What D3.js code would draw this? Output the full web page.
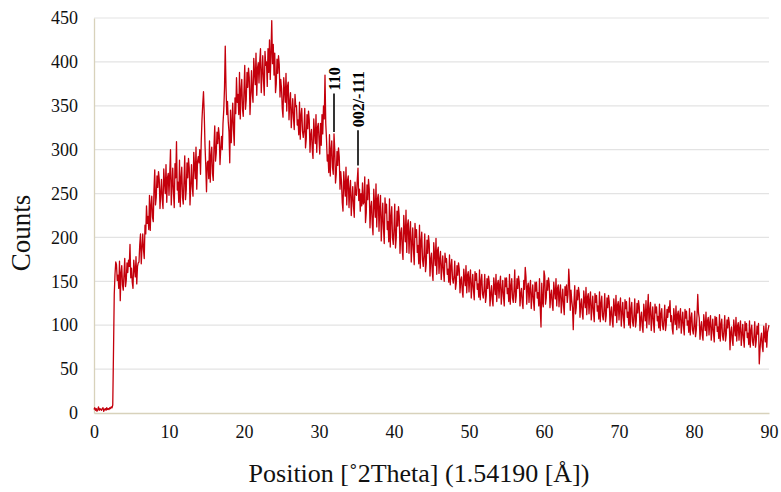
<!DOCTYPE html>
<html><head><meta charset="utf-8">
<script src="https://cdn.jsdelivr.net/npm/d3@7"></script>
<style>body{margin:0;background:#fff}svg{display:block}</style>
</head><body>
<svg id="c" width="781" height="492"></svg>
<script>
// X-ray diffraction pattern, counts every 0.1 deg 2Theta from 0 to 90
const startAngle = 0;
const stepAngle = 0.1;
const counts = [
4,6,3,5,2,4,7,3,5,4,
3,5,6,2,4,5,3,6,4,5,
4,6,5,7,6,9,70,135,158,172,
169,151,157,142,173,128,160,168,146,140,
158,176,144,151,171,160,174,167,192,154,
165,149,142,174,164,155,178,147,167,171,
172,192,204,170,188,204,186,176,214,204,
236,216,224,209,248,208,237,247,223,218,
255,277,237,246,270,257,275,266,233,251,
266,243,233,278,263,250,283,240,268,273,
248,273,300,237,259,279,251,234,284,268,
309,254,263,240,288,235,268,280,246,238,
265,293,243,254,285,268,290,279,237,259,
283,258,247,297,281,267,303,255,286,292,
285,300,272,310,335,352,366,340,305,282,
252,285,287,267,310,263,293,303,273,265,
305,327,287,296,320,307,325,316,283,301,
315,300,330,345,370,418,372,340,355,332,
320,285,345,308,332,353,323,305,359,341,
382,354,363,340,388,335,368,380,346,338,
368,396,346,357,388,371,393,382,340,362,
390,365,354,404,388,374,410,362,393,399,
376,401,415,365,387,407,379,362,412,396,
400,372,415,388,425,380,410,447,398,420,
385,410,365,375,403,387,407,397,360,380,
370,347,337,382,367,354,387,344,372,377,
334,354,365,325,343,358,336,323,363,349,
350,328,334,317,354,312,339,347,321,314,
322,347,302,312,340,324,344,334,297,317,
323,300,290,335,320,307,340,297,325,330,
312,295,330,305,340,318,350,335,385,330,
312,287,294,274,317,270,300,310,280,272,
318,300,262,272,298,282,302,292,255,275,
263,240,230,275,260,247,280,237,265,270,
234,254,265,225,243,258,236,223,263,249,
248,265,279,242,255,230,250,236,262,238,
240,269,217,228,260,243,266,255,211,234,
241,215,203,255,238,223,261,212,244,249,
207,234,248,196,219,239,210,193,245,228,
238,209,218,195,244,189,224,235,200,192,
210,238,188,199,230,213,235,224,182,204,
211,186,175,225,209,195,231,183,214,220,
182,205,218,172,192,211,185,169,216,200,
209,183,191,170,214,165,196,206,175,167,
180,204,161,170,197,182,202,192,156,175,
182,161,151,194,180,168,199,158,185,189,
159,175,184,152,166,179,161,150,182,172,
176,158,164,149,180,146,167,175,153,148,
155,173,141,148,168,157,171,164,137,151,
155,139,132,164,154,145,168,137,157,161,
138,154,163,131,145,158,140,129,161,151,
159,141,147,132,163,129,150,158,136,131,
140,158,126,133,153,142,156,149,122,136,
145,129,122,154,144,135,158,127,147,151,
131,147,156,124,138,151,133,122,154,144,
154,136,142,127,158,124,145,153,131,126,
140,163,126,133,153,142,156,149,122,136,
142,126,119,151,141,166,155,124,144,148,
126,142,151,119,133,146,128,117,149,139,
149,131,137,122,153,119,98,148,126,121,
162,156,124,131,151,140,154,147,120,134,
140,124,117,149,139,130,153,122,142,146,
121,137,146,114,128,141,123,112,144,134,
146,126,135,164,148,117,140,128,120,95,
127,145,113,120,140,129,143,136,109,123,
130,114,107,139,129,120,143,112,132,136,
113,129,138,106,120,133,115,104,136,126,
134,116,122,107,138,104,125,133,111,106,
118,136,104,111,131,120,134,127,100,114,
121,105,98,130,120,111,134,103,123,127,
106,122,131,99,113,126,108,97,129,119,
127,109,115,100,131,97,118,126,104,99,
112,130,98,105,125,114,128,121,94,108,
115,99,92,124,114,105,128,97,117,135,
101,117,126,94,108,121,103,92,124,114,
121,105,110,97,124,94,113,119,100,95,
107,123,94,101,118,109,121,115,128,104,
111,96,90,119,109,101,122,95,112,116,
97,111,119,91,103,115,99,89,118,108,
116,100,105,92,119,89,108,114,95,90,
100,116,87,94,111,135,114,108,84,97,
104,89,83,112,102,94,115,88,105,109,
89,103,111,83,95,107,91,81,110,100,
109,93,98,85,112,82,101,107,88,83,
95,111,82,89,106,97,109,103,72,92,
98,83,77,106,96,88,109,82,99,103,
83,97,105,77,89,101,85,75,104,94,
102,86,91,78,105,75,94,100,82,77,
88,104,75,82,99,90,102,56,72,85,
91,76,70,99,89,81,102,75,92,96,
100
];
const xTicks = [0,10,20,30,40,50,60,70,80,90];
const yTicks = [0,50,100,150,200,250,300,350,400,450];
// peak annotations: label, 2Theta, leader start (counts), leader end (counts)
const peakLabels = ["110", "002/-111"];
const peakAngles = [32.0, 35.2];
const leaderFrom = [320, 282];
const leaderTo = [364, 322];

const points = counts.map((c, i) => ({x: startAngle + i * stepAngle, y: c}));

const svg = d3.select("#c");
const m = {l: 94, r: 12, t: 18, b: 79};
const W = 781, H = 492;
const x = d3.scaleLinear().domain([0, 90]).range([m.l, W - m.r]);
const y = d3.scaleLinear().domain([0, 450]).range([H - m.b, m.t]);
const serif = "'Liberation Serif','Times New Roman',serif";

// gridlines
svg.append("g").selectAll("line").data(yTicks.filter(d => d > 0)).join("line")
  .attr("x1", x(0)).attr("x2", x(90))
  .attr("y1", d => y(d)).attr("y2", d => y(d))
  .attr("stroke", "#e3e3e3").attr("stroke-width", 1.2);

// axes
const yAxis = svg.append("g").attr("transform", `translate(${x(0)},0)`)
  .call(d3.axisLeft(y).tickValues(yTicks).tickSize(0).tickPadding(16));
const xAxis = svg.append("g").attr("transform", `translate(0,${y(0)})`)
  .call(d3.axisBottom(x).tickValues(xTicks).tickSize(0).tickPadding(12));
[yAxis, xAxis].forEach(g => {
  g.select(".domain").attr("stroke", "#d8d2bb").attr("stroke-width", 1.3);
  g.selectAll("text").attr("font-family", serif).attr("font-size", 18).attr("fill", "#111");
});

// data line
svg.append("path").datum(points)
  .attr("fill", "none").attr("stroke", "#c4000c").attr("stroke-width", 1.3)
  .attr("stroke-linejoin", "round")
  .attr("d", d3.line().x(d => x(d.x)).y(d => y(d.y)));

// annotations
peakLabels.forEach((lab, i) => {
  svg.append("line")
    .attr("x1", x(peakAngles[i])).attr("x2", x(peakAngles[i]))
    .attr("y1", y(leaderFrom[i])).attr("y2", y(leaderTo[i]))
    .attr("stroke", "#000").attr("stroke-width", 1.6);
  svg.append("text")
    .attr("transform", `translate(${x(peakAngles[i]) + 6},${y(leaderTo[i]) - 3}) rotate(-90)`)
    .attr("font-family", serif).attr("font-weight", "bold").attr("font-size", 16)
    .attr("fill", "#000").text(lab);
});

// axis titles
svg.append("text").attr("x", 419).attr("y", 482).attr("text-anchor", "middle")
  .attr("font-family", serif).attr("font-size", 26).attr("fill", "#111")
  .text("Position [˚2Theta] (1.54190 [Å])");
svg.append("text").attr("transform", "translate(30,233) rotate(-90)")
  .attr("text-anchor", "middle")
  .attr("font-family", serif).attr("font-size", 27).attr("fill", "#111")
  .text("Counts");
</script>
</body></html>
